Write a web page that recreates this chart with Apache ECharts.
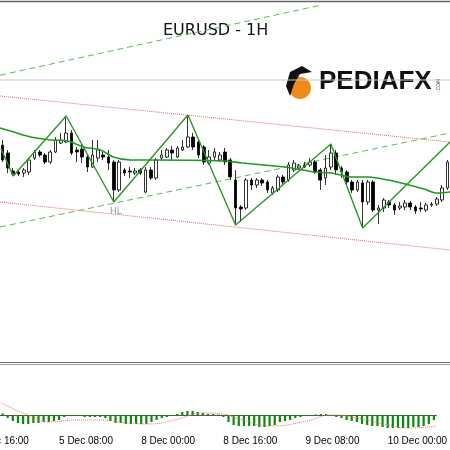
<!DOCTYPE html>
<html><head><meta charset="utf-8">
<script src="https://cdn.jsdelivr.net/npm/echarts@6/dist/echarts.min.js"></script>
<style>html,body{margin:0;padding:0;background:#fff}#c{width:450px;height:450px}</style>
</head><body><div id="c"></div>
<script>
// OHLC: [open, close, low, high]
const candles = [
[1.1755,1.1740,1.1738,1.1760],[1.1747,1.1732,1.1727,1.1750],[1.1729,1.1726,1.1724,1.1732],[1.1728,1.1726,1.1724,1.1730],
[1.1727,1.1730,1.1723,1.1732],[1.1728,1.1740,1.1725,1.1742],[1.1742,1.1748,1.1740,1.1750],[1.1748,1.1745,1.1743,1.1750],
[1.1745,1.1738,1.1736,1.1747],[1.1738,1.1748,1.1736,1.1750],[1.1748,1.1760,1.1747,1.1763],[1.1757,1.1760,1.1756,1.1767],
[1.1758,1.1767,1.1757,1.1784],[1.1767,1.1747,1.1745,1.1770],[1.1750,1.1748,1.1738,1.1753],[1.1751,1.1743,1.1737,1.1757],
[1.1743,1.1733,1.1728,1.1745],[1.1733,1.1745,1.1732,1.1760],[1.1742,1.1750,1.1738,1.1760],[1.1745,1.1743,1.1740,1.1748],
[1.1743,1.1737,1.1730,1.1750],[1.1738,1.1710,1.1698,1.1740],[1.1710,1.1738,1.1708,1.1740],[1.1730,1.1727,1.1724,1.1732],
[1.1729,1.1728,1.1722,1.1733],[1.1727,1.1729,1.1725,1.1732],[1.1730,1.1727,1.1725,1.1732],[1.1708,1.1730,1.1707,1.1733],
[1.1730,1.1722,1.1720,1.1733],[1.1722,1.1740,1.1720,1.1742],[1.1742,1.1745,1.1740,1.1750],[1.1743,1.1750,1.1742,1.1752],
[1.1750,1.1747,1.1740,1.1754],[1.1743,1.1752,1.1742,1.1754],[1.1750,1.1753,1.1749,1.1760],[1.1753,1.1763,1.1752,1.1785],
[1.1763,1.1753,1.1750,1.1767],[1.1758,1.1745,1.1742,1.1760],[1.1753,1.1738,1.1735,1.1755],[1.1737,1.1743,1.1735,1.1750],
[1.1743,1.1748,1.1740,1.1752],[1.1740,1.1745,1.1738,1.1748],[1.1748,1.1738,1.1735,1.1752],[1.1740,1.1723,1.1720,1.1742],
[1.1720,1.1692,1.1675,1.1730],[1.1693,1.1691,1.1678,1.1695],[1.1692,1.1720,1.1690,1.1722],[1.1720,1.1715,1.1710,1.1722],
[1.1715,1.1720,1.1712,1.1722],[1.1720,1.1717,1.1714,1.1722],[1.1718,1.1710,1.1707,1.1720],[1.1707,1.1712,1.1705,1.1714],
[1.1710,1.1723,1.1708,1.1725],[1.1723,1.1718,1.1715,1.1725],[1.1720,1.1735,1.1718,1.1738],[1.1730,1.1737,1.1728,1.1740],
[1.1732,1.1734,1.1730,1.1736],[1.1735,1.1733,1.1732,1.1738],[1.1735,1.1738,1.1733,1.1742],[1.1738,1.1728,1.1726,1.1740],
[1.1730,1.1720,1.1710,1.1732],[1.1722,1.1732,1.1715,1.1745],[1.1733,1.1747,1.1730,1.1756],[1.1747,1.1730,1.1725,1.1750],
[1.1732,1.1728,1.1722,1.1734],[1.1728,1.1718,1.1715,1.1730],[1.1718,1.1710,1.1707,1.1720],[1.1710,1.1718,1.1708,1.1720],
[1.1717,1.1698,1.1672,1.1720],[1.1698,1.1718,1.1695,1.1720],[1.1718,1.1690,1.1688,1.1720],[1.1690,1.1692,1.1676,1.1695],
[1.1692,1.1700,1.1688,1.1702],[1.1698,1.1695,1.1692,1.1700],[1.1695,1.1690,1.1685,1.1697],[1.1692,1.1694,1.1690,1.1698],
[1.1693,1.1697,1.1690,1.1700],[1.1697,1.1693,1.1690,1.1699],[1.1693,1.1689,1.1686,1.1695],[1.1692,1.1691,1.1688,1.1698],
[1.1690,1.1695,1.1688,1.1697],[1.1695,1.1696,1.1693,1.1698],[1.1696,1.1701,1.1694,1.1703],[1.1700,1.1712,1.1698,1.1715],
[1.1712,1.1738,1.1710,1.1740]
];
const macdHist = [1.5,-3,-6,-8,-9,-9,-8,-8,-7,-7,-6,-5,-2,-1,-1,-1,-2,-2,-2,-2,-3,-6,-8,-8,-9,-9,-9,-9,-9,-7,
-5,-3,-2,-1,1,3,4,4,3,2,1,1,0.5,-2,-7,-10,-11,-11,-11,-11,-12,-12,-11,-10,-7,-6,-5,-3,-2,-1,
-1,0.5,1,1,-1,-2,-3,-5,-6,-7,-9,-10,-11,-11,-12,-13,-13,-13,-13,-13,-12,-12,-11,-9,-5];
const macdSignal = [[-0.3,12],[5,0],[9.1,-7],[14.2,-5],[18.5,-5],[24.7,-8],[28.5,-9],[33.5,-5],[39.2,2],[42.9,1],[46.1,-4],[52.3,-11],[59.3,-6],[64,0],[69.2,-3],[74.9,-10],[79.2,-13],[84.5,-11]];
const movingAvg = [[-0.5,1.1772],[2.1,1.1768],[5.3,1.1763],[9.1,1.1760],[12.3,1.1759],[15.3,1.1753],[18.5,1.1750],[20.9,1.1743],[24.1,1.1740],[27.9,1.1740],[42,1.1739],[45.2,1.1737],[51.4,1.1734],[54.6,1.1732],[58.9,1.1728],[62.1,1.1727],[65.9,1.1723],[68.9,1.1723],[74.5,1.1718],[79.6,1.1711],[82,1.1707],[84.5,1.1708]];
const zigzag = [[-0.3,1.1751],[2,1.1724],[12,1.1784],[21,1.1698],[35,1.1785],[44,1.1675],[62,1.1756],[68,1.1672],[84.5,1.1758]];
const redUpper = [[-0.5,1.1804],[84.5,1.1758]];
const redLower = [[-0.5,1.1698],[84.5,1.1650]];
const greenUpper = [[-0.5,1.18248],[60.2,1.1895]];
const greenLower = [[-0.5,1.1673],[84.5,1.1767]];
const grayLevel = [[-0.5,1.1820],[84.5,1.1820]];
const tickLabels = {11:'5 Dec 08:00',27:'8 Dec 00:00',43:'8 Dec 16:00',59:'9 Dec 08:00',75:'10 Dec 00:00'};
const categories = candles.map((_, i) => tickLabels[i] || '');

const chart = echarts.init(document.getElementById('c'), null, {renderer:'canvas'});
const ov = (data, color, type, width, xi) => ({type:'line', data, xAxisIndex: xi||1, yAxisIndex:0, symbol:'none', silent:true,
  lineStyle:{color, type, width}, clip:true, z:3});
chart.setOption({
  animation:false, backgroundColor:'#fff',
  grid:[{left:-1,right:-1,top:0,height:363},{left:-1,right:-1,top:365,height:67}],
  xAxis:[
    {type:'category',gridIndex:0,data:categories,show:false},
    {type:'value',gridIndex:0,min:-0.5,max:84.5,show:false},
    {type:'category',gridIndex:1,data:categories,
      axisLine:{lineStyle:{color:'#555'}},
      axisTick:{alignWithLabel:true,length:4,lineStyle:{color:'#555'},interval:(i)=>!!tickLabels[i]},
      axisLabel:{interval:(i)=>!!tickLabels[i],align:'left',color:'#000',fontSize:10,fontFamily:'Liberation Sans',margin:4,showMinLabel:true,showMaxLabel:true,hideOverlap:false}},
    {type:'value',gridIndex:1,min:-0.5,max:84.5,show:false}
  ],
  yAxis:[
    {type:'value',gridIndex:0,min:1.1537,max:1.1900,show:false},
    {type:'value',gridIndex:1,min:-17,max:50,show:false}
  ],
  series:[
    ov(grayLevel,'#c8c8c8','solid',1),
    ov(redUpper,'#f06060','dotted',1),
    ov(redLower,'#f06060','dotted',1),
    ov(greenUpper,'#5cb85c',[6,4],1),
    ov(greenLower,'#5cb85c',[6,4],1),
    {type:'candlestick',xAxisIndex:0,yAxisIndex:0,data:candles,barWidth:3.2,z:4,
      itemStyle:{color:'#fff',color0:'#000',borderColor:'#000',borderColor0:'#000',borderWidth:0.8}},
    Object.assign(ov(movingAvg,'#1f9a1f','solid',1.6),{smooth:0.3,z:5}),
    Object.assign(ov(zigzag,'#2a962a','solid',1.4),{z:6}),
    {type:'bar',xAxisIndex:2,yAxisIndex:1,data:macdHist,barWidth:2.2,itemStyle:{color:'#0a8a0a'}},
    {type:'line',xAxisIndex:3,yAxisIndex:1,data:macdSignal,smooth:true,symbol:'none',
      lineStyle:{color:'#f07070',type:'dotted',width:1}}
  ],
  graphic:[
    {type:'line',shape:{x1:0,y1:1.5,x2:450,y2:1.5},style:{stroke:'#666',lineWidth:1.5}},
    {type:'line',shape:{x1:0,y1:362.5,x2:450,y2:362.5},style:{stroke:'#666',lineWidth:1}},
    {type:'line',shape:{x1:0,y1:364.5,x2:450,y2:364.5},style:{stroke:'#999',lineWidth:1}},
    {type:'text',left:163,top:23,style:{text:'EURUSD - 1H',fontSize:16,fontFamily:'DejaVu Sans',fill:'#111'}},
    {type:'text',left:-25,top:436,style:{text:'4 Dec 16:00',fontSize:10,fontFamily:'Liberation Sans',fill:'#000'}},
    {type:'text',left:110,top:207,style:{text:'HL',fontSize:9,fontFamily:'DejaVu Sans',fill:'#78a8b0'}},
    {type:'circle',shape:{cx:300,cy:88,r:11},style:{fill:'#f08a1c'}},
    {type:'polygon',shape:{points:[[290,72],[302,66],[312,72],[300,74],[294,84],[290,96],[286,86]]},style:{fill:'#111'}},
    {type:'text',left:319,top:69,style:{text:'PEDIAFX',fontSize:26,fontWeight:'bold',fontFamily:'Liberation Sans',fill:'#111'}},
    {type:'text',x:436,y:92,rotation:Math.PI/2,style:{text:'.COM',fontSize:5,fontFamily:'DejaVu Sans',fill:'#333'}}
  ]
});
</script></body></html>
